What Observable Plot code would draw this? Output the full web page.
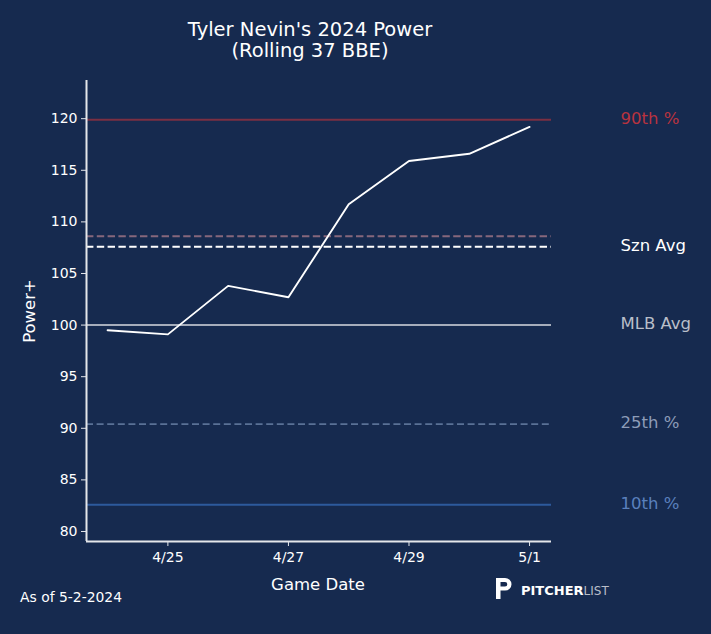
<!DOCTYPE html>
<html><head><meta charset="utf-8">
<script src="https://cdn.jsdelivr.net/npm/d3@7"></script>
<script src="https://cdn.jsdelivr.net/npm/@observablehq/plot@0.6"></script>
<style>
html,body{margin:0;padding:0;background:#162a4f;}
#chart{width:711px;height:634px;}
</style>
</head><body><div id="chart"></div>
<script>
// ---- data ----
const dates = ["2024-04-24","2024-04-25","2024-04-26","2024-04-27","2024-04-28","2024-04-29","2024-04-30","2024-05-01"];
const power = [99.5, 99.1, 103.8, 102.7, 111.7, 115.9, 116.6, 119.2];

const refNames  = ["90th %", "75th %", "Szn Avg", "MLB Avg", "25th %", "10th %"];
const refValues = [119.9, 108.6, 107.6, 100, 90.4, 82.6];
const refShowLabel = [true, false, true, true, true, true];

const xTickDates = ["2024-04-25","2024-04-27","2024-04-29","2024-05-01"];
const yTicks = [80, 85, 90, 95, 100, 105, 110, 115, 120];

// ---- styles (not data) ----
const refStyles = [
  {stroke:"#7b2f42", width:2,   dash:null,      label:"#b8333f"},
  {stroke:"#86677c", width:2,   dash:"7.4,3.4", label:"#86677c"},
  {stroke:"#ffffff", width:2,   dash:"7.4,3.4", label:"#ffffff"},
  {stroke:"#a6adbb", width:2,   dash:null,      label:"#b9bec9"},
  {stroke:"#5a7196", width:1.6, dash:"7,3.6",   label:"#8d9cb8"},
  {stroke:"#2d5a9c", width:2,   dash:null,      label:"#5a80bd"}
];

const parse = d3.utcParse("%Y-%m-%d");
const series = dates.map((d, i) => ({date: parse(d), power: power[i]}));
const refs = refNames.map((n, i) => ({name: n, value: refValues[i], show: refShowLabel[i], ...refStyles[i]}));

const first = parse(dates[0]), last = parse(dates[dates.length - 1]);
const span = last - first;
const xDomain = [new Date(+first - span * 0.05), new Date(+last + span * 0.052)];
const yDomain = [79.03, 123.7];

const axisColor = "#e4e6ea";
const font = "DejaVu Sans, Verdana, sans-serif";

const marks = [];
refs.forEach(r => {
  marks.push(Plot.ruleY([r.value], {stroke: r.stroke, strokeWidth: r.width, strokeDasharray: r.dash || undefined}));
});
marks.push(Plot.line(series, {x: "date", y: "power", stroke: "white", strokeWidth: 1.9}));
refs.filter(r => r.show).forEach(r => {
  marks.push(Plot.text([r], {x: () => xDomain[1], y: "value", text: "name", dx: 69, dy: -1, textAnchor: "start", fill: r.label, fontSize: 16.5}));
});
marks.push(Plot.ruleX([xDomain[0]], {stroke: axisColor, strokeWidth: 2}));
marks.push(Plot.ruleY([yDomain[0]], {stroke: axisColor, strokeWidth: 2}));
marks.push(Plot.axisY({ticks: yTicks, tickSize: 5, tickPadding: 4, stroke: axisColor, fill: "white", fontSize: 14, label: null}));
marks.push(Plot.axisX({ticks: xTickDates.map(parse), tickFormat: d3.utcFormat("%-m/%-d"), tickSize: 5, tickPadding: 6, stroke: axisColor, fill: "white", fontSize: 14, label: null}));

const chart = Plot.plot({
  width: 711, height: 634,
  marginLeft: 86, marginRight: 160, marginTop: 80, marginBottom: 93,
  style: {background: "#162a4f", color: "white", fontFamily: font, fontSize: "14px", overflow: "visible"},
  x: {type: "utc", domain: xDomain},
  y: {domain: yDomain},
  marks
});
document.getElementById("chart").appendChild(chart);

// ---- annotations ----
const svg = d3.select(chart);
const g = svg.append("g").attr("font-family", font).attr("fill", "white").attr("text-anchor", "start");
g.append("text").attr("x", 310).attr("y", 36).attr("text-anchor", "middle").attr("font-size", 19.5).text("Tyler Nevin's 2024 Power");
g.append("text").attr("x", 310).attr("y", 57).attr("text-anchor", "middle").attr("font-size", 19.5).text("(Rolling 37 BBE)");
g.append("text").attr("transform", "translate(35,311) rotate(-90)").attr("text-anchor", "middle").attr("font-size", 16.5).text("Power+");
g.append("text").attr("x", 318).attr("y", 590).attr("text-anchor", "middle").attr("font-size", 16.5).text("Game Date");
g.append("text").attr("x", 20).attr("y", 602).attr("text-anchor", "start").attr("font-size", 13.9).text("As of 5-2-2024");

// logo
const logo = g.append("g");
logo.append("path").attr("fill", "white").attr("fill-rule", "evenodd")
  .attr("d", "M496,578 H505 A6.5,6.3 0 0 1 505,590.6 H500.5 V599 H496 Z M500.5,582 V586.6 H505 A2.3,2.3 0 0 0 505,582 Z");
const lt = logo.append("text").attr("x", 521).attr("y", 595).attr("text-anchor", "start").attr("font-size", 13);
lt.append("tspan").attr("font-weight", "bold").attr("fill", "white").text("PITCHER");
lt.append("tspan").attr("fill", "#b9bec9").attr("font-size", 12).text("LIST");
</script>
</body></html>
